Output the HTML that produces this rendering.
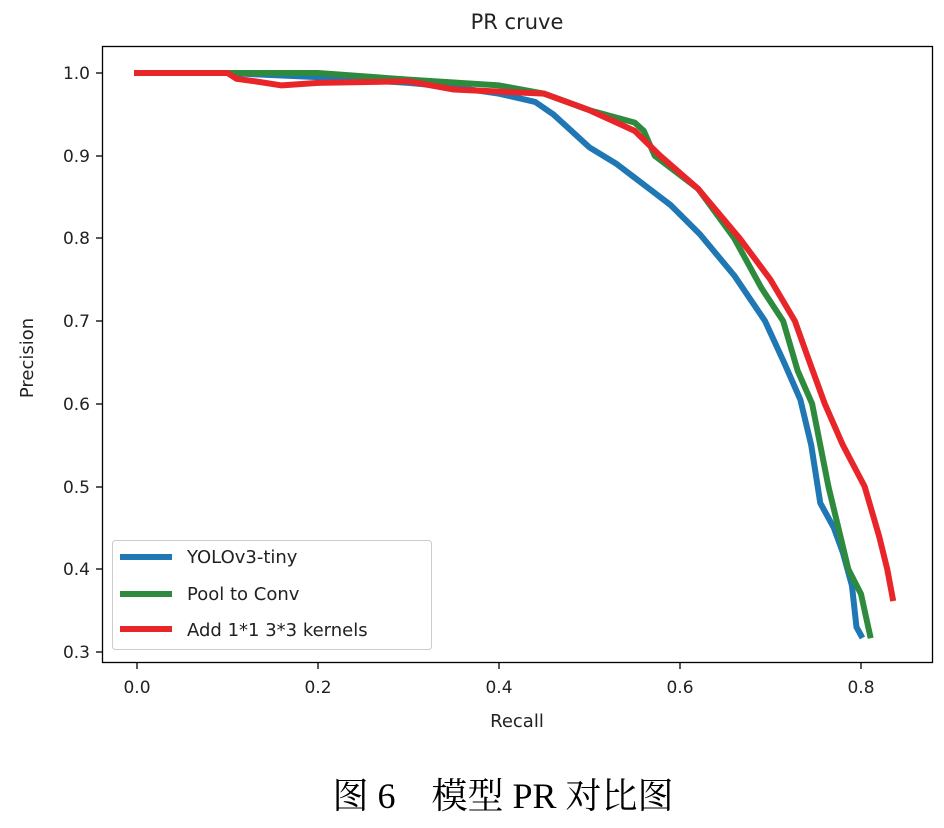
<!DOCTYPE html>
<html><head><meta charset="utf-8"><style>
body{margin:0;background:#fff;width:944px;height:823px;overflow:hidden}
text{font-family:"DejaVu Sans","Liberation Sans",sans-serif;fill:#222}
</style></head><body>
<svg width="944" height="823" xmlns="http://www.w3.org/2000/svg">
<text x="517" y="29" font-size="21" text-anchor="middle">PR cruve</text>
<g fill="none" stroke-linejoin="round" stroke-linecap="square" stroke-width="6">
<g transform="translate(137,73) scale(905,827)">
<polyline vector-effect="non-scaling-stroke" stroke="#1f77b4" points="0,0 0.1,0 0.2,0.005 0.3,0.012 0.35,0.017 0.4,0.025 0.44,0.035 0.46,0.05 0.48,0.07 0.5,0.09 0.53,0.11 0.56,0.135 0.59,0.16 0.622,0.195 0.66,0.245 0.694,0.3 0.715,0.35 0.733,0.395 0.745,0.45 0.755,0.52 0.77,0.55 0.78,0.58 0.79,0.62 0.795,0.67 0.8,0.68"/>
<polyline vector-effect="non-scaling-stroke" stroke="#2e8b3e" points="0,0 0.2,0 0.3,0.008 0.4,0.015 0.45,0.025 0.5,0.045 0.55,0.06 0.56,0.07 0.572,0.1 0.62,0.14 0.66,0.2 0.69,0.26 0.714,0.3 0.73,0.36 0.746,0.4 0.755,0.45 0.764,0.5 0.775,0.55 0.786,0.6 0.8,0.63 0.81,0.68"/>
<polyline vector-effect="non-scaling-stroke" stroke="#e8262a" points="0,0 0.1,0 0.11,0.007 0.13,0.01 0.16,0.015 0.2,0.012 0.3,0.01 0.35,0.02 0.45,0.025 0.5,0.045 0.55,0.07 0.578,0.1 0.62,0.14 0.666,0.2 0.7,0.25 0.727,0.3 0.74,0.34 0.76,0.4 0.78,0.45 0.804,0.5 0.82,0.56 0.829,0.6 0.835,0.635"/>
</g>
</g>
<rect x="102.5" y="46.5" width="830" height="616" fill="none" stroke="#000" stroke-width="1.3"/>
<g stroke="#000" stroke-width="1.3">
<line x1="137" y1="663" x2="137" y2="669"/><line x1="318" y1="663" x2="318" y2="669"/><line x1="499" y1="663" x2="499" y2="669"/><line x1="680" y1="663" x2="680" y2="669"/><line x1="861" y1="663" x2="861" y2="669"/>
<line x1="96" y1="73" x2="102" y2="73"/><line x1="96" y1="156" x2="102" y2="156"/><line x1="96" y1="238" x2="102" y2="238"/><line x1="96" y1="321" x2="102" y2="321"/><line x1="96" y1="404" x2="102" y2="404"/><line x1="96" y1="487" x2="102" y2="487"/><line x1="96" y1="569" x2="102" y2="569"/><line x1="96" y1="652" x2="102" y2="652"/>
</g>
<g font-size="17" text-anchor="middle">
<text x="137" y="693">0.0</text><text x="318" y="693">0.2</text><text x="499" y="693">0.4</text><text x="680" y="693">0.6</text><text x="861" y="693">0.8</text>
</g>
<g font-size="17" text-anchor="end">
<text x="90" y="79">1.0</text><text x="90" y="162">0.9</text><text x="90" y="244">0.8</text><text x="90" y="327">0.7</text><text x="90" y="410">0.6</text><text x="90" y="493">0.5</text><text x="90" y="575">0.4</text><text x="90" y="658">0.3</text>
</g>
<text x="517" y="727" font-size="18" text-anchor="middle">Recall</text>
<text transform="translate(33,358) rotate(-90)" font-size="18" text-anchor="middle">Precision</text>
<rect x="112.5" y="540.5" width="319" height="109" rx="3" fill="#fff" fill-opacity="0.85" stroke="#ccc"/>
<g stroke-width="6"><line x1="120" y1="557" x2="172" y2="557" stroke="#1f77b4"/><line x1="120" y1="594" x2="172" y2="594" stroke="#2e8b3e"/><line x1="120" y1="629" x2="172" y2="629" stroke="#e8262a"/></g>
<g font-size="18"><text x="187" y="563">YOLOv3-tiny</text><text x="187" y="600">Pool to Conv</text><text x="187" y="636">Add 1*1 3*3 kernels</text></g>
<text x="503" y="808" font-size="36" text-anchor="middle" style="font-family:'Liberation Serif','Noto Serif CJK SC',serif;fill:#000">图 6　模型 PR 对比图</text>
</svg>
</body></html>
